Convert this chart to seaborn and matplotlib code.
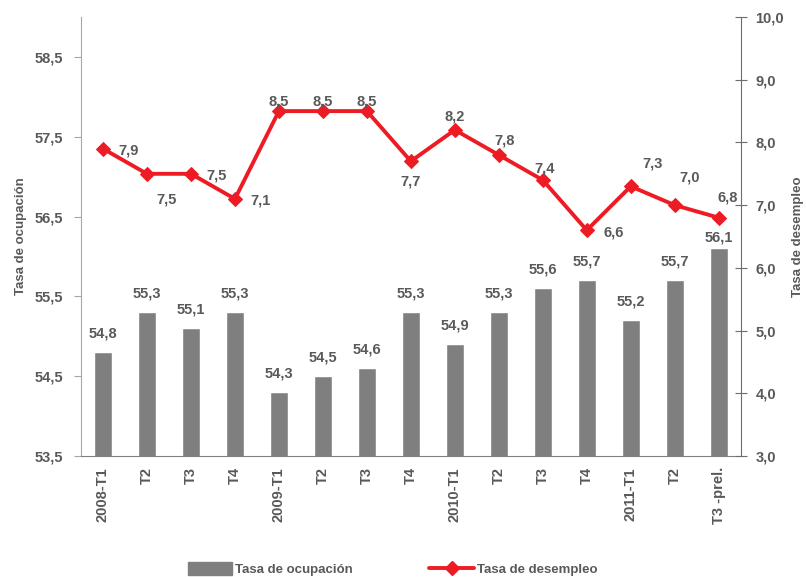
import numpy as np
import pandas as pd
import matplotlib
matplotlib.use('Agg')
import matplotlib.pyplot as plt
import seaborn as sns
from matplotlib.lines import Line2D
from matplotlib.patches import Patch

# data
periodos = ['2008-T1', 'T2', 'T3', 'T4', '2009-T1', 'T2', 'T3', 'T4',
            '2010-T1', 'T2', 'T3', 'T4', '2011-T1', 'T2', 'T3 -prel.']
ocupacion = [54.8, 55.3, 55.1, 55.3, 54.3, 54.5, 54.6, 55.3,
             54.9, 55.3, 55.6, 55.7, 55.2, 55.7, 56.1]
desempleo = [7.9, 7.5, 7.5, 7.1, 8.5, 8.5, 8.5, 7.7,
             8.2, 7.8, 7.4, 6.6, 7.3, 7.0, 6.8]

# where each unemployment label sits relative to its marker (pixels)
label_offsets = [(26, -2), (20, -26), (26, -2), (26, -2), (0, 10), (0, 10), (0, 10), (0, -20),
                 (0, 13), (6, 14), (2, 12), (27, -2), (22, 23), (15, 28), (9, 20)]

df = pd.DataFrame({'pos': np.arange(len(periodos)), 'ocupacion': ocupacion, 'desempleo': desempleo})

sns.set_style('white')
plt.rcParams['font.family'] = ['Liberation Sans', 'DejaVu Sans']

txt = '#595959'
gris = '#7f7f80'
rojo = '#ed1c24'

fig = plt.figure(figsize=(8.06, 5.77), dpi=100)
ax = fig.add_axes([0.1005, 0.2097, 0.8185, 0.7608])

sns.barplot(data=df, x='pos', y='ocupacion', color=gris, width=0.4, ax=ax,
            saturation=1, native_scale=True)
ax.set_xlim(-0.5, len(periodos) - 0.5)
ax.set_ylim(53.5, 59.0)

for i, v in enumerate(ocupacion):
    gap = 4 if i == len(ocupacion) - 1 else 12
    ax.annotate(f'{v:.1f}'.replace('.', ','), (i, v), xytext=(0, gap), textcoords='offset pixels',
                ha='center', va='bottom', fontsize=10.5, color=txt, fontweight='bold')

ax2 = ax.twinx()
sns.lineplot(data=df, x='pos', y='desempleo', color=rojo, lw=2.8, marker='D', markersize=7.5,
             markeredgecolor=rojo, ax=ax2)
ax2.set_ylim(3.0, 10.0)
ax2.set_xlim(-0.5, len(periodos) - 0.5)

for i, v in enumerate(desempleo):
    dx, dy = label_offsets[i]
    ax2.annotate(f'{v:.1f}'.replace('.', ','), (i, v), xytext=(dx, dy), textcoords='offset pixels',
                 ha='center', va='center', fontsize=10.5, color=txt, fontweight='bold')

# y axes
yt = np.arange(53.5, 59.0, 1.0)
ax.set_yticks(yt)
ax.set_yticklabels([f'{v:.1f}'.replace('.', ',') for v in yt], fontsize=10.5, color=txt, fontweight='bold')
yt2 = np.arange(3.0, 10.01, 1.0)
ax2.set_yticks(yt2)
ax2.set_yticklabels([f'{v:.1f}'.replace('.', ',') for v in yt2], fontsize=10.5, color=txt, fontweight='bold')

# x axis: ticks at the slot edges, labels in the middle
ax.set_xticks(np.arange(-0.5, len(periodos), 1.0))
ax.set_xticklabels([])
ax.set_xticks(np.arange(len(periodos)), minor=True)
ax.set_xticklabels(periodos, minor=True, rotation=90, fontsize=10.5, color=txt, fontweight='bold')
ax.tick_params(axis='x', which='major', direction='out', length=5, color='#808080', width=1)
ax.tick_params(axis='x', which='minor', length=0, pad=8)
ax.tick_params(axis='y', direction='out', length=5, color='#a6a6a6', pad=8)
ax2.tick_params(axis='y', direction='inout', length=9, color='#6d6d6d', pad=6)

ax.set_xlabel('')
ax.set_ylabel('Tasa de ocupación', fontsize=9.5, color=txt, fontweight='bold', labelpad=5)
ax2.set_xlabel('')
ax2.set_ylabel('Tasa de desempleo', fontsize=9.5, color=txt, fontweight='bold', labelpad=6)

for a in (ax, ax2):
    a.spines['top'].set_visible(False)
ax.spines['left'].set_color('#a6a6a6')
ax.spines['right'].set_visible(False)
ax.spines['bottom'].set_color('#808080')
ax2.spines['left'].set_visible(False)
ax2.spines['bottom'].set_visible(False)
ax2.spines['right'].set_color('#6d6d6d')

handles = [Patch(color=gris, label='Tasa de ocupación'),
           Line2D([], [], color=rojo, lw=2.8, marker='D', markersize=7.5, label='Tasa de desempleo')]
fig.legend(handles=handles, loc='lower center', bbox_to_anchor=(0.487, -0.019), ncol=2, frameon=False,
           prop={'size': 9.5, 'weight': 'bold'}, labelcolor=txt,
           handlelength=3.4, handleheight=1.1, columnspacing=5.8, handletextpad=0.2)
if ax2.get_legend():
    ax2.get_legend().remove()

plt.savefig('out.png', dpi=100)
